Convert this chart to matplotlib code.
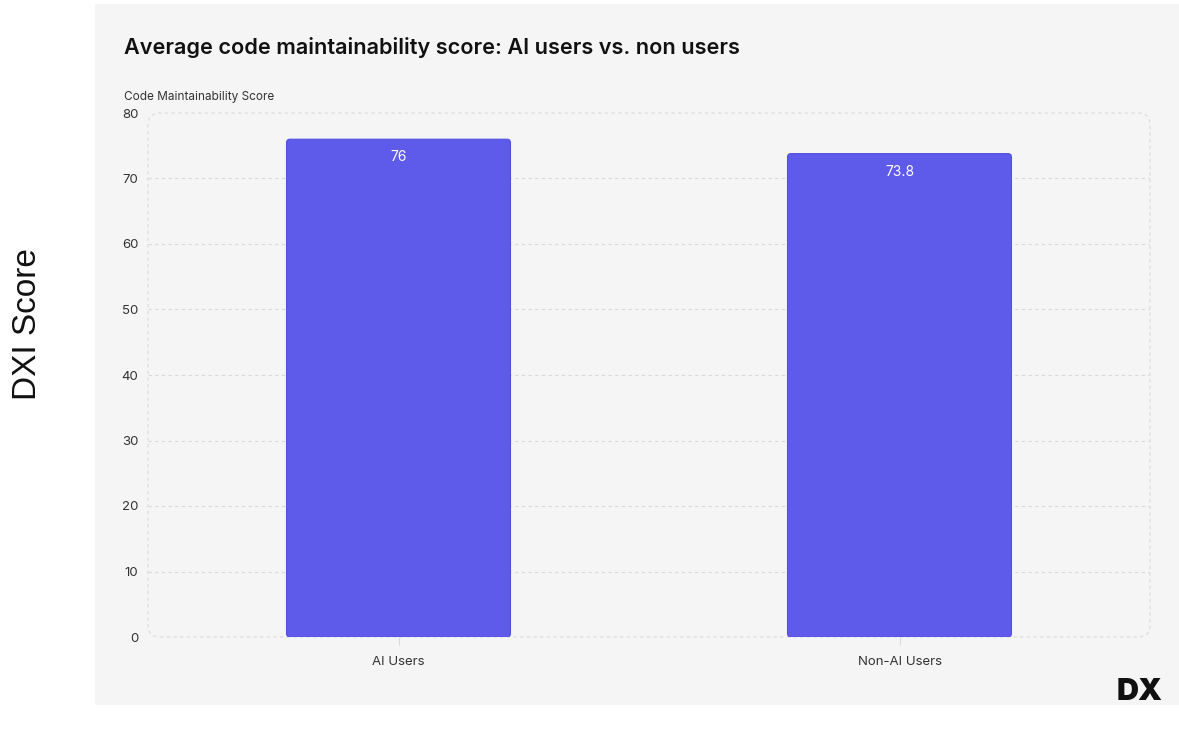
import matplotlib.pyplot as plt
from matplotlib.patches import FancyBboxPatch, Rectangle

# survey results
groups = ['AI Users', 'Non-AI Users']
scores = [76, 73.8]
score_labels = ['76', '73.8']
yticks = [0, 10, 20, 30, 40, 50, 60, 70, 80]

bar_color = '#5E5BEB'
panel_color = '#F5F5F5'
grid_color = '#D9D9D9'

plt.rcParams['font.family'] = ['Inter', 'DejaVu Sans']

fig = plt.figure(figsize=(11.79, 7.33), dpi=100)
fig.patch.set_facecolor('white')

W, H = 1179.0, 733.0

# light card behind the chart
fig.patches.append(Rectangle((95 / W, 1 - 705 / H), 1 - 95 / W, (705 - 4) / H,
                             transform=fig.transFigure, facecolor=panel_color,
                             edgecolor='none', zorder=-5))

ax = fig.add_axes([148 / W, 1 - 637 / H, (1150 - 148) / W, (637 - 113) / H])
ax.set_facecolor('none')
ax.set_zorder(2)

x = list(range(len(groups)))
bars = ax.bar(x, scores, width=0.447, color=bar_color, zorder=3)

# swap the plain rectangles for slightly rounded ones
for b in bars:
    b.set_visible(False)
    rb = FancyBboxPatch((b.get_x(), b.get_y()), b.get_width(), b.get_height(),
                        boxstyle='round,pad=0,rounding_size=0.007',
                        mutation_aspect=76, facecolor=bar_color,
                        edgecolor='#5450DE', linewidth=0.8, zorder=3)
    ax.add_patch(rb)

for xi, s, lab in zip(x, scores, score_labels):
    ax.annotate(lab, (xi, s), xytext=(0, -13), textcoords='offset points',
                ha='center', va='center', color='white', fontsize=10, zorder=4)

ax.set_xlim(-0.5, 1.5)
ax.set_ylim(0, 80)
ax.set_yticks(yticks)
ax.set_xticks(x)
ax.set_xticklabels(groups, fontsize=9.5, color='#333333')
ax.tick_params(axis='y', length=0, pad=7, labelsize=9.5, labelcolor='#333333')
ax.tick_params(axis='x', length=6, width=0.8, color=grid_color, pad=8)
for t in ax.xaxis.get_ticklines():
    t.set_linestyle((0, (2, 2)))

for yv in yticks[1:-1]:
    ax.axhline(yv, color=grid_color, linewidth=0.8, linestyle=(0, (3, 3)), zorder=1)

for sp in ax.spines.values():
    sp.set_visible(False)

# dashed rounded frame around the plot area
frame = FancyBboxPatch((0, 0), 1, 1, transform=ax.transAxes,
                       boxstyle='round,pad=0,rounding_size=0.012',
                       mutation_aspect=(1002 / 524), facecolor='none',
                       edgecolor=grid_color, linewidth=0.8,
                       linestyle=(0, (3, 3)), clip_on=False, zorder=1)
ax.add_patch(frame)

fig.text(124 / W, 1 - 47 / H, 'Average code maintainability score: AI users vs. non users',
         fontsize=15.6, fontweight='semibold', color='#111111', va='center', ha='left')
fig.text(124 / W, 1 - 97 / H, 'Code Maintainability Score',
         fontsize=8.5, color='#333333', va='center', ha='left')

fig.text(1140 / W, 1 - 692 / H, 'DX', fontsize=22, fontweight='black',
         color='#111111', va='center', ha='center')

fig.text(28 / W, 1 - 324 / H, 'DXI Score', rotation=90, fontsize=24,
         family=['Liberation Sans', 'DejaVu Sans'], color='#111111',
         va='center', ha='center')

fig.savefig('out.png', dpi=100, facecolor=fig.get_facecolor())
